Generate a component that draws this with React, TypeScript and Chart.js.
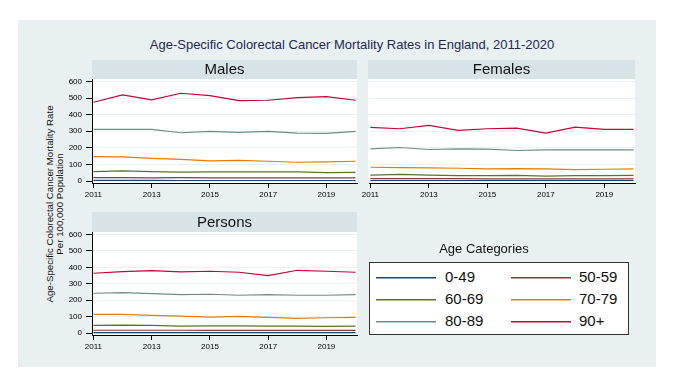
import React, { useEffect, useRef } from 'react';
import { Chart, registerables } from 'chart.js';
Chart.register(...registerables);

const W = 687;
const H = 391;
const FONT = '"Liberation Sans", Arial, sans-serif';

const years = [2011, 2012, 2013, 2014, 2015, 2016, 2017, 2018, 2019, 2020];
const xTickLabels = [2011, 2013, 2015, 2017, 2019];
const yTickLabels = [0, 100, 200, 300, 400, 500, 600];
const ageGroups = ['0-49', '50-59', '60-69', '70-79', '80-89', '90+'];
const colors = ['#1a476f', '#90353b', '#55752f', '#e37e00', '#6e8e84', '#c10534'];

// Males
const m049 = [4, 4, 4, 3, 3, 3, 3, 3, 3, 3];
const m5059 = [20, 20, 19, 20, 19, 19, 19, 19, 19, 19];
const m6069 = [57, 61, 57, 53, 55, 55, 55, 55, 51, 52];
const m7079 = [147, 145, 137, 131, 121, 125, 119, 113, 115, 119];
const m8089 = [311, 311, 311, 291, 299, 293, 299, 289, 287, 299];
const m90 = [475, 519, 489, 529, 515, 485, 487, 503, 509, 487];

// Females
const f049 = [3, 3, 3, 3, 3, 3, 3, 3, 3, 3];
const f5059 = [14, 14, 14, 14, 13, 13, 13, 13, 13, 13];
const f6069 = [36, 40, 36, 32, 32, 34, 30, 32, 32, 34];
const f7079 = [83, 81, 79, 77, 73, 75, 73, 69, 71, 73];
const f8089 = [194, 202, 190, 194, 192, 184, 188, 188, 188, 188];
const f90 = [323, 315, 335, 305, 315, 319, 289, 325, 311, 311];

// Persons
const p049 = [3, 3, 3, 3, 3, 3, 3, 3, 3, 3];
const p5059 = [17, 17, 17, 17, 16, 16, 16, 16, 16, 16];
const p6069 = [46, 48, 46, 42, 44, 44, 42, 42, 40, 42];
const p7079 = [113, 113, 107, 103, 97, 101, 95, 89, 93, 95];
const p8089 = [242, 246, 240, 234, 236, 230, 234, 230, 230, 234];
const p90 = [364, 374, 380, 372, 376, 370, 349, 382, 376, 370];

const BG = 'rgb(232,240,242)';
const BAR = 'rgb(216,227,232)';
const GRID = 'rgb(234,242,243)';
const YW = 30;
const XH = 20;

type Area = { left: number; right: number; top: number; bottom: number; barTop: number; barLeft: number };

function makePanel(canvas: HTMLCanvasElement, title: string, series: number[][], area: Area, showY: boolean) {
  const panelPlugin = {
    id: 'panelBg',
    beforeDraw(chart: any) {
      const ctx = chart.ctx;
      const ca = chart.chartArea;
      ctx.save();
      ctx.fillStyle = '#ffffff';
      ctx.fillRect(area.barLeft, ca.top, ca.right - area.barLeft, ca.bottom - ca.top);
      ctx.fillStyle = BAR;
      ctx.fillRect(area.barLeft, area.barTop, ca.right - area.barLeft, ca.top - area.barTop);
      ctx.fillStyle = '#111';
      ctx.font = `15px ${FONT}`;
      ctx.textAlign = 'center';
      ctx.textBaseline = 'middle';
      ctx.fillText(title, (area.barLeft + ca.right) / 2, (area.barTop + ca.top) / 2 + 0.5);
      ctx.restore();
    },
  };
  return new Chart(canvas, {
    type: 'line',
    data: {
      datasets: ageGroups.map((g, i) => ({
        label: g,
        data: years.map((yr, j) => ({ x: yr, y: series[i][j] })),
        borderColor: colors[i],
        backgroundColor: colors[i],
        borderWidth: 1.2,
        pointRadius: 0,
        fill: false,
        tension: 0,
      })),
    },
    options: {
      responsive: false,
      animation: false,
      devicePixelRatio: 1,
      layout: {
        padding: {
          left: area.left - YW,
          right: W - area.right,
          top: area.top,
          bottom: H - area.bottom - XH,
        },
      },
      plugins: { legend: { display: false }, title: { display: false }, tooltip: { enabled: false } },
      scales: {
        x: {
          type: 'linear',
          min: 2010.95,
          max: 2020.05,
          afterBuildTicks: (s: any) => {
            s.ticks = xTickLabels.map((v) => ({ value: v }));
          },
          afterFit: (s: any) => {
            s.height = XH;
          },
          ticks: {
            callback: (v: any) => String(v),
            font: { size: 8, family: FONT },
            color: '#000',
            padding: 2,
            maxRotation: 0,
            autoSkip: false,
          },
          grid: { drawOnChartArea: false, drawTicks: true, tickLength: 5, tickColor: '#000' },
          border: { display: true, color: '#000', width: 1 },
        },
        y: {
          type: 'linear',
          min: -12,
          max: 615,
          afterBuildTicks: (s: any) => {
            s.ticks = yTickLabels.map((v) => ({ value: v }));
          },
          afterFit: (s: any) => {
            s.width = YW;
          },
          ticks: {
            display: showY,
            callback: (v: any) => String(v),
            font: { size: 8, family: FONT },
            color: '#000',
            padding: 4,
          },
          grid: { color: GRID, lineWidth: 1, drawTicks: showY, tickLength: showY ? 6 : 0, tickColor: '#000' },
          border: { display: showY, color: '#000', width: 1 },
        },
      },
    } as any,
    plugins: [panelPlugin],
  });
}

function Panel({ title, series, area, showY }: { title: string; series: number[][]; area: Area; showY: boolean }) {
  const ref = useRef<HTMLCanvasElement>(null);
  useEffect(() => {
    if (!ref.current) return;
    const c = makePanel(ref.current, title, series, area, showY);
    return () => c.destroy();
  }, []);
  return (
    <canvas
      ref={ref}
      width={W}
      height={H}
      style={{ position: 'absolute', left: 0, top: 0, width: W, height: H, pointerEvents: 'none' }}
    />
  );
}

const legendRows = [
  [0, 1],
  [2, 3],
  [4, 5],
];

export default function App() {
  return (
    <div style={{ position: 'fixed', left: 0, top: 0, width: W, height: H, background: '#fff', overflow: 'hidden', fontFamily: FONT }}>
      <div style={{ position: 'absolute', left: 18, top: 20, width: 638, height: 347, background: BG }} />
      <div
        style={{
          position: 'absolute',
          left: 0,
          width: 704,
          top: 37,
          textAlign: 'center',
          fontSize: 13,
          color: '#1f2a4e',
          whiteSpace: 'nowrap',
        }}
      >
        Age-Specific Colorectal Cancer Mortality Rates in England, 2011-2020
      </div>
      <div
        style={{
          position: 'absolute',
          left: 55 - 125,
          top: 204 - 10,
          width: 250,
          height: 20,
          transform: 'rotate(-90deg)',
          textAlign: 'center',
          fontSize: 9.7,
          lineHeight: '10px',
          color: '#111',
          whiteSpace: 'nowrap',
        }}
      >
        <div>Age-Specific Colorectal Cancer Mortality Rate</div>
        <div>Per 100,000 Population</div>
      </div>
      <Panel title="Males" series={[m049, m5059, m6069, m7079, m8089, m90]} area={{ left: 92, right: 357, top: 79, bottom: 183, barTop: 60, barLeft: 92 }} showY={true} />
      <Panel title="Females" series={[f049, f5059, f6069, f7079, f8089, f90]} area={{ left: 369, right: 635, top: 79, bottom: 183, barTop: 60, barLeft: 368 }} showY={false} />
      <Panel title="Persons" series={[p049, p5059, p6069, p7079, p8089, p90]} area={{ left: 92, right: 357, top: 232, bottom: 335, barTop: 212, barLeft: 92 }} showY={true} />
      <div style={{ position: 'absolute', left: 384, width: 200, top: 241, textAlign: 'center', fontSize: 13, color: '#111' }}>Age Categories</div>
      <div
        style={{
          position: 'absolute',
          left: 369,
          top: 262,
          width: 260,
          height: 73,
          boxSizing: 'border-box',
          border: '1px solid #333',
          background: '#fff',
        }}
      />
      {legendRows.map((row, r) =>
        row.map((idx, c) => (
          <React.Fragment key={`${r}-${c}`}>
            <div
              style={{
                position: 'absolute',
                left: c === 0 ? 376 : 511,
                top: 277 + r * 22,
                width: 60,
                height: 1,
                background: colors[idx],
                boxShadow: `0 1px 0 ${colors[idx]}80`,
              }}
            />
            <div
              style={{
                position: 'absolute',
                left: c === 0 ? 445 : 579,
                top: 277 + r * 22 - 9,
                fontSize: 15,
                lineHeight: '18px',
                color: '#111',
              }}
            >
              {ageGroups[idx]}
            </div>
          </React.Fragment>
        ))
      )}
    </div>
  );
}
